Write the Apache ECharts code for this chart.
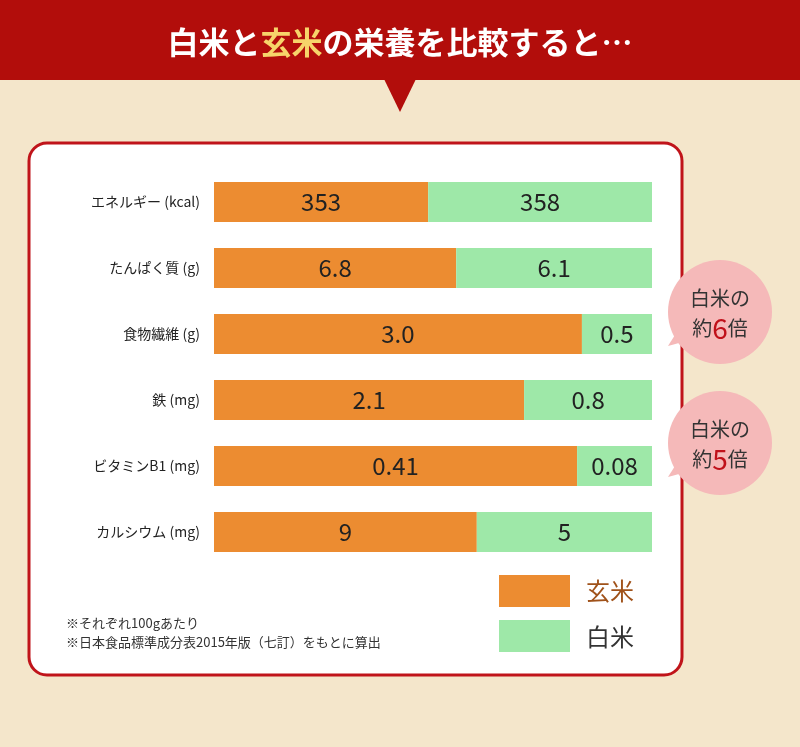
<!DOCTYPE html>
<html><head><meta charset="utf-8">
<script src="https://cdn.jsdelivr.net/npm/echarts@6/dist/echarts.min.js"></script>
<style>html,body{margin:0;padding:0;background:#f4e6cb}#c{width:800px;height:747px}</style>
</head><body><div id="c"></div>
<script>
var categories = ['エネルギー (kcal)', 'たんぱく質 (g)', '食物繊維 (g)', '鉄 (mg)', 'ビタミンB1 (mg)', 'カルシウム (mg)']
// 棒の長さ（画像から読み取った割合 %）
var genmaiShare = [48.9, 55.3, 84.0, 70.8, 82.9, 60.0]
var hakumaiShare = [51.1, 44.7, 16.0, 29.2, 17.1, 40.0]
// 表示する数値
var genmaiLabels = ['353', '6.8', '3.0', '2.1', '0.41', '9']
var hakumaiLabels = ['358', '6.1', '0.5', '0.8', '0.08', '5']

var font = '"Noto Sans CJK JP", "Noto Sans", sans-serif'
var chart = echarts.init(document.getElementById('c'))

function callout (cy, times) {
  return [
    { type: 'polygon', shape: { points: [[680, cy + 15], [668, cy + 34], [690, cy + 28]] }, style: { fill: '#f5b9b9' }, z: 1 },
    { type: 'circle', shape: { cx: 720, cy: cy, r: 52 }, style: { fill: '#f5b9b9' }, z: 1 },
    { type: 'text', x: 720, y: cy - 14, style: { text: '白米の', font: '20px ' + font, fill: '#333', align: 'center', verticalAlign: 'middle' }, z: 2 },
    { type: 'text', x: 720, y: cy + 16, style: { text: '{a|約}{b|' + times + '}{a|倍}', align: 'center', verticalAlign: 'middle', rich: { a: { fontSize: 20, fontFamily: font, fill: '#333' }, b: { fontSize: 28, fontFamily: font, fill: '#c0101a' } } }, z: 2 }
  ]
}

var graphics = [
  { type: 'rect', shape: { x: 0, y: 0, width: 800, height: 80 }, style: { fill: '#b20d0b' }, z: 0 },
  { type: 'polygon', shape: { points: [[384, 79], [416, 79], [400, 112]] }, style: { fill: '#b20d0b' }, z: 0 },
  { type: 'text', x: 400, y: 42, style: { text: '{w|白米と}{y|玄米}{w|の栄養を比較すると…}', align: 'center', verticalAlign: 'middle', rich: { w: { fontSize: 31, fontWeight: 'bold', fontFamily: font, fill: '#fff' }, y: { fontSize: 31, fontWeight: 'bold', fontFamily: font, fill: '#f7d46a' } } }, z: 1 },
  { type: 'rect', shape: { x: 29, y: 143, width: 653, height: 532, r: 18 }, style: { fill: '#fff', stroke: '#c0141a', lineWidth: 3 }, z: 0 },
  { type: 'rect', shape: { x: 499, y: 575, width: 71, height: 32 }, style: { fill: '#ec8c31' }, z: 1 },
  { type: 'rect', shape: { x: 499, y: 620, width: 71, height: 32 }, style: { fill: '#9ee8a8' }, z: 1 },
  { type: 'text', x: 586, y: 591, style: { text: '玄米', font: '24px ' + font, fill: '#a0521a', verticalAlign: 'middle' }, z: 1 },
  { type: 'text', x: 586, y: 637, style: { text: '白米', font: '24px ' + font, fill: '#333', verticalAlign: 'middle' }, z: 1 },
  { type: 'text', x: 66, y: 623, style: { text: '※それぞれ100gあたり', font: '13px ' + font, fill: '#333', verticalAlign: 'middle' }, z: 1 },
  { type: 'text', x: 66, y: 642, style: { text: '※日本食品標準成分表2015年版（七訂）をもとに算出', font: '13px ' + font, fill: '#333', verticalAlign: 'middle' }, z: 1 }
].concat(callout(312, '6'), callout(443, '5'))

function labelOf (arr) {
  return { show: true, position: 'inside', fontSize: 24, fontFamily: font, color: '#222', formatter: function (p) { return arr[p.dataIndex] } }
}

chart.setOption({
  animation: false,
  graphic: graphics,
  grid: { left: 214, right: 148, top: 169, height: 396 },
  xAxis: { type: 'value', min: 0, max: 100, show: false },
  yAxis: {
    type: 'category', inverse: true, data: categories,
    axisLine: { show: false }, axisTick: { show: false },
    axisLabel: { fontSize: 14, fontFamily: font, color: '#222', margin: 14 }
  },
  series: [
    { type: 'bar', stack: 'a', data: genmaiShare, barWidth: 40, itemStyle: { color: '#ec8c31' }, label: labelOf(genmaiLabels), z: 3 },
    { type: 'bar', stack: 'a', data: hakumaiShare, barWidth: 40, itemStyle: { color: '#9ee8a8' }, label: labelOf(hakumaiLabels), z: 3 }
  ]
})
</script></body></html>
